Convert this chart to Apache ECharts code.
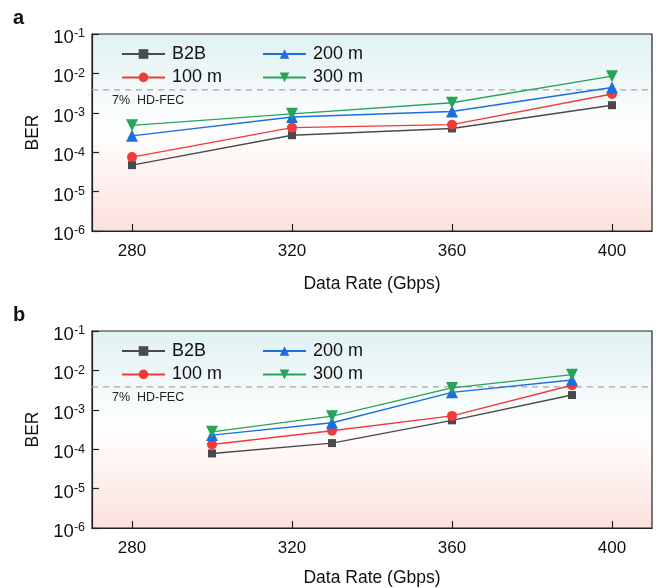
<!DOCTYPE html>
<html>
<head>
<meta charset="utf-8">
<script src="https://cdn.jsdelivr.net/npm/echarts@6/dist/echarts.min.js"></script>
<style>
  html, body { margin: 0; padding: 0; background: #fff; }
  #chart { width: 662px; height: 588px; }
</style>
</head>
<body>
<div id="chart"></div>
<script>
// Panel a: BER vs data rate
const ratesA = [280, 320, 360, 400];
const b2bA   = [4.7e-5, 2.7e-4, 4.0e-4, 1.56e-3];
const m100A  = [7.5e-5, 4.2e-4, 5.0e-4, 3.0e-3];
const m200A  = [2.6e-4, 7.8e-4, 1.08e-3, 4.4e-3];
const m300A  = [4.8e-4, 9.4e-4, 1.8e-3, 8.5e-3];

// Panel b: BER vs data rate
const ratesB = [300, 330, 360, 390];
const b2bB   = [7.8e-5, 1.43e-4, 5.4e-4, 2.37e-3];
const m100B  = [1.32e-4, 2.93e-4, 7.0e-4, 4.2e-3];
const m200B  = [2.28e-4, 4.7e-4, 2.77e-3, 5.7e-3];
const m300B  = [2.76e-4, 6.9e-4, 3.6e-3, 7.8e-3];

const xTickLabels = [280, 320, 360, 400];
const xRange = [270, 410];
const seriesNames = ['B2B', '100 m', '200 m', '300 m'];
const fecLimit = 3.8e-3;
const fecText = '7%  HD-FEC';
const panelLetters = ['a', 'b'];

const FONT = 'Liberation Sans, Arial, Helvetica, sans-serif';
const AXIS_COLOR = '#222';
const TEXT_COLOR = '#111';

const styles = {
  'B2B':   { color: '#4a4a4a', symbol: 'rect', size: 8, rotate: 0 },
  '100 m': { color: '#ef3b3b', symbol: 'circle', size: 10, rotate: 0 },
  '200 m': { color: '#1c6fe0', symbol: 'triangle', size: 12, rotate: 0 },
  '300 m': { color: '#29a35b', symbol: 'triangle', size: 12, rotate: 180 }
};

const panelData = [
  { rates: ratesA, values: [b2bA, m100A, m200A, m300A] },
  { rates: ratesB, values: [b2bB, m100B, m200B, m300B] }
];

const gridTops = [34, 331];
const gridHeight = 197;
const xNameGaps = [44, 41];

function bgGradient() {
  return new echarts.graphic.LinearGradient(0, 0, 0, 1, [
    { offset: 0, color: '#e0f1f2' },
    { offset: 0.42, color: '#fbfdfd' },
    { offset: 0.52, color: '#fffdfd' },
    { offset: 1, color: '#fbe1dd' }
  ]);
}

const grids = gridTops.map(t => ({
  left: 92, right: 10, top: t, height: gridHeight,
  show: true, backgroundColor: bgGradient(),
  borderColor: AXIS_COLOR, borderWidth: 1.2
}));

const xAxes = gridTops.map((t, i) => ({
  type: 'value', gridIndex: i, min: xRange[0], max: xRange[1],
  name: 'Data Rate (Gbps)', nameLocation: 'middle', nameGap: xNameGaps[i],
  nameTextStyle: { fontFamily: FONT, fontSize: 17.5, color: TEXT_COLOR },
  axisLine: { show: true, lineStyle: { color: AXIS_COLOR, width: 1.2 } },
  axisTick: { show: true, inside: true, length: 7, customValues: xTickLabels,
              lineStyle: { color: AXIS_COLOR, width: 1.2 } },
  axisLabel: { customValues: xTickLabels, margin: 12,
               fontFamily: FONT, fontSize: 17, color: TEXT_COLOR },
  splitLine: { show: false }
}));

const yAxes = gridTops.map((t, i) => ({
  type: 'log', logBase: 10, gridIndex: i, min: 1e-6, max: 1e-1, interval: 1,
  name: 'BER', nameLocation: 'middle', nameGap: 50,
  nameTextStyle: { fontFamily: FONT, fontSize: 17.5, color: TEXT_COLOR },
  axisLine: { show: true, lineStyle: { color: AXIS_COLOR, width: 1.2 } },
  axisTick: { show: true, inside: true, length: 7,
              lineStyle: { color: AXIS_COLOR, width: 1.2 } },
  axisLabel: {
    margin: 7,
    padding: [8, 0, 0, 0],
    formatter: v => '{b|10}{s|' + Math.round(Math.log10(v)) + '}',
    rich: {
      b: { fontFamily: FONT, fontSize: 18.5, color: TEXT_COLOR },
      s: { fontFamily: FONT, fontSize: 12.5, color: TEXT_COLOR, padding: [0, 0, 8, 0] }
    }
  },
  splitLine: { show: false }
}));

const series = [];
panelData.forEach((p, pi) => {
  // dashed FEC threshold across the full x range
  series.push({
    name: 'HD-FEC threshold', type: 'line', xAxisIndex: pi, yAxisIndex: pi,
    data: [
      { value: [xRange[0], fecLimit],
        label: { show: true, position: [20, 4], formatter: fecText,
                 fontFamily: FONT, fontSize: 12.5, color: '#222' } },
      { value: [xRange[1], fecLimit] }
    ],
    symbol: 'circle', symbolSize: 0.01, silent: true,
    itemStyle: { color: 'rgba(0,0,0,0)' },
    lineStyle: { color: '#a8a8a8', type: [6, 5], width: 1.2 },
    z: 2
  });
  seriesNames.forEach((name, si) => {
    const st = styles[name];
    series.push({
      name: name, type: 'line', xAxisIndex: pi, yAxisIndex: pi,
      data: p.rates.map((r, k) => [r, p.values[si][k]]),
      symbol: st.symbol, symbolSize: st.size, symbolRotate: st.rotate,
      itemStyle: { color: st.color },
      lineStyle: { color: st.color, width: 1.4 },
      z: 3 + si
    });
  });
});

const legendRowsTop = [45, 342];
const legends = [];
legendRowsTop.forEach(top => {
  [[seriesNames[0], seriesNames[1], 121], [seriesNames[2], seriesNames[3], 262]].forEach(col => {
    legends.push({
      data: [col[0], col[1]], orient: 'vertical', left: col[2], top: top,
      padding: 0,
      itemWidth: 43, itemHeight: 12, itemGap: 5.4, selectedMode: false,
      textStyle: { fontFamily: FONT, fontSize: 18, lineHeight: 18, color: TEXT_COLOR,
                   padding: [0, 0, 0, 2] }
    });
  });
});

const letters = panelLetters.map((l, i) => ({
  type: 'text', left: 13, top: gridTops[i] - 26,
  style: { text: l, fontFamily: FONT, fontSize: 20, fontWeight: 'bold', fill: '#111' }
}));

const chart = echarts.init(document.getElementById('chart'), null, { renderer: 'canvas' });
chart.setOption({
  backgroundColor: '#fff',
  animation: false,
  grid: grids,
  xAxis: xAxes,
  yAxis: yAxes,
  legend: legends,
  series: series,
  graphic: letters
});
</script>
</body>
</html>
